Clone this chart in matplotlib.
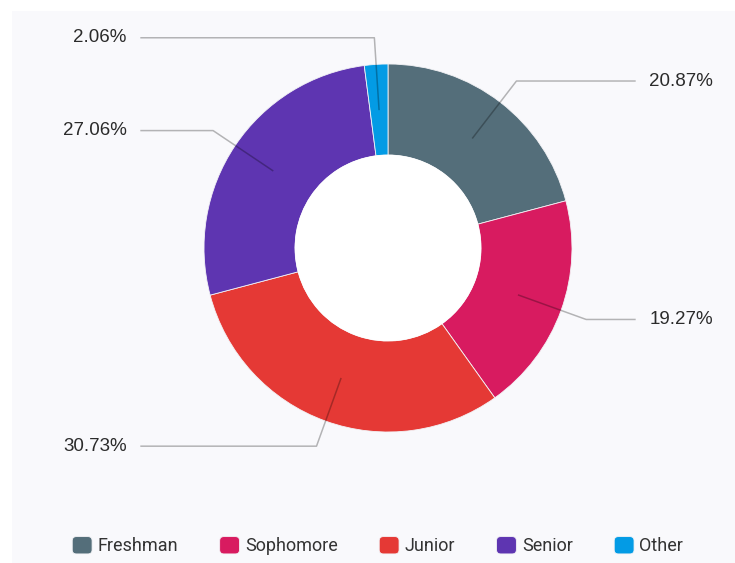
import matplotlib.pyplot as plt
import numpy as np
from matplotlib.patches import Rectangle, FancyBboxPatch
from matplotlib.legend_handler import HandlerPatch

plt.rcParams['font.family'] = ['Liberation Sans', 'DejaVu Sans']

# 학년별 비율 도넛 차트
categories = ['Freshman', 'Sophomore', 'Junior', 'Senior', 'Other']
shares = [20.87, 19.27, 30.73, 27.06, 2.06]
colors = ['#546e7a', '#d81b60', '#e53935', '#5e35b1', '#039be5']

W, H = 735, 563
fig = plt.figure(figsize=(W / 100, H / 100), dpi=100, facecolor='white')
ax = fig.add_axes([0, 0, 1, 1])
ax.axis('off')

# 패널 배경
ax.add_patch(Rectangle((12, 0), W - 12, H - 11, facecolor='#f9f9fc', edgecolor='none', zorder=0))

cx, cy, R, r_in = 388, H - 248, 184, 93
wedges, _ = ax.pie(shares, colors=colors, startangle=90, counterclock=False,
                   center=(cx, cy), radius=R,
                   wedgeprops=dict(width=R - r_in, edgecolor='#f3f3f6', linewidth=0.6))
ax.add_patch(plt.Circle((cx, cy), r_in - 0.5, color='white', zorder=3))

# 지시선과 퍼센트 라벨
for w, v in zip(wedges, shares):
    ang = np.deg2rad((w.theta1 + w.theta2) / 2)
    dx, dy = np.cos(ang), np.sin(ang)
    x0, y0 = cx + 0.755 * R * dx, cy + 0.755 * R * dy
    x1, y1 = cx + 1.145 * R * dx, cy + 1.145 * R * dy
    side = 1 if dx > 0 else -1
    x2 = cx + side * 1.342 * R
    ax.plot([x0, x1, x2], [y0, y1, y1], color='black', alpha=0.28, lw=1.1, zorder=4)
    ax.text(cx + side * 1.42 * R, y1, f"{v:.2f}%", ha='left' if side > 0 else 'right',
            va='center', fontsize=13.5, color='#2b2b2b', zorder=5)

ax.set_xlim(0, W)
ax.set_ylim(0, H)


# 둥근 모서리 범례 아이콘
def rounded_box(legend, orig_handle, xdescent, ydescent, width, height, fontsize):
    return FancyBboxPatch((-xdescent, -ydescent), width, height,
                          boxstyle='round,pad=0,rounding_size=3')


leg = fig.legend(wedges, categories, loc='center', bbox_to_anchor=(0.514, 17 / H), ncol=5,
                 frameon=False, handlelength=1.1, handleheight=1.1, handletextpad=0.3,
                 columnspacing=2.3, prop={'family': 'Roboto', 'size': 13},
                 handler_map={w: HandlerPatch(patch_func=rounded_box) for w in wedges})
for t in leg.get_texts():
    t.set_color('#333333')

fig.savefig('out.png', dpi=100, facecolor='white')
